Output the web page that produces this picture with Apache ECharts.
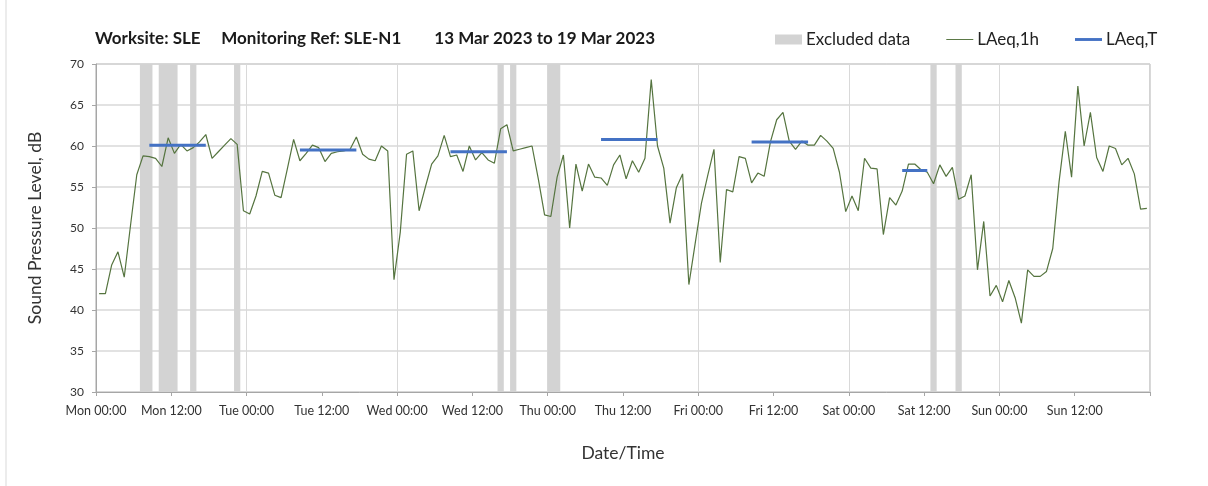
<!DOCTYPE html>
<html lang="en" style="width: 100%;height:100%">
    <head>
        <meta charset="UTF-8">
        <title>SLE-N1</title>
        <script src="https://cdn.jsdelivr.net/npm/echarts@6/dist/echarts.min.js"></script>
    </head>

    <body style="width: 100%;height:100%;margin:0;background:#fff">
        <div id="line" style="width: 1208px;height:486px"></div>
        <script>
            // hourly LAeq,1h, Mon 00:00 .. Sun 23:00 (one value per hour)
            var laeq1h = [
                42.0, 42.0, 45.5, 47.1, 44.0, 50.3, 56.5, 58.8, 58.7, 58.5, 57.5, 61.0,
                59.1, 60.2, 59.4, 59.8, 60.5, 61.4, 58.5, 59.3, 60.1, 60.9, 60.2, 52.1,
                51.7, 53.9, 56.9, 56.7, 54.0, 53.7, 57.2, 60.8, 58.2, 59.1, 60.1, 59.8,
                58.1, 59.1, 59.3, 59.4, 59.6, 61.1, 59.0, 58.4, 58.2, 60.0, 59.4, 43.7,
                49.5, 59.0, 59.4, 52.1, 55.0, 57.8, 58.8, 61.3, 58.7, 58.9, 56.9, 60.0,
                58.3, 59.2, 58.3, 57.9, 62.1, 62.6, 59.4, 59.6, 59.8, 60.0, 56.0, 51.6,
                51.4, 56.2, 58.9, 50.0, 57.8, 54.5, 57.8, 56.2, 56.1, 55.2, 57.7, 58.9,
                56.0, 58.2, 56.8, 58.5, 68.1, 60.0, 57.3, 50.6, 54.9, 56.6, 43.1, 48.1,
                53.0, 56.4, 59.6, 45.8, 54.7, 54.4, 58.7, 58.5, 55.5, 56.7, 56.3, 60.5,
                63.2, 64.1, 60.6, 59.6, 60.6, 60.1, 60.1, 61.3, 60.6, 59.7, 56.8, 52.0,
                53.9, 52.1, 58.5, 57.3, 57.2, 49.2, 53.7, 52.8, 54.5, 57.8, 57.8, 57.1,
                56.8, 55.4, 57.7, 56.3, 57.4, 53.5, 53.9, 56.5, 44.9, 50.8, 41.7, 43.0,
                41.0, 43.6, 41.5, 38.4, 44.9, 44.1, 44.1, 44.7, 47.5, 55.6, 61.8, 56.2,
                67.3, 60.0, 64.1, 58.6, 56.9, 60.0, 59.7, 57.7, 58.5, 56.6, 52.3, 52.4
            ];

            // LAeq,T periods (hour from start of week)
            var periodStart = [8, 32, 56, 80, 104, 128];
            var periodEnd = [18, 42, 66, 90, 114, 133];
            var periodLevel = [60.1, 59.5, 59.3, 60.8, 60.5, 57.0];

            // excluded data windows (hour from start of week)
            var excludedStart = [7, 10, 15, 22, 64, 66, 72, 133, 137];
            var excludedEnd = [9, 13, 16, 23, 65, 67, 74, 134, 138];

            var xTickLabels = ['Mon 00:00', 'Mon 12:00', 'Tue 00:00', 'Tue 12:00', 'Wed 00:00', 'Wed 12:00',
                'Thu 00:00', 'Thu 12:00', 'Fri 00:00', 'Fri 12:00', 'Sat 00:00', 'Sat 12:00',
                'Sun 00:00', 'Sun 12:00', ''];

            var FONT = 'Lato';

            var hourly = laeq1h.map(function (v, i) { return [i + 0.5, v]; });

            var periods = [];
            for (var i = 0; i < periodStart.length; i++) {
                periods.push([periodStart[i] + 0.5, periodLevel[i]]);
                periods.push([periodEnd[i] - 0.5, periodLevel[i]]);
                periods.push([periodEnd[i], null]);
            }

            var excluded = excludedStart.map(function (s, i) {
                return [{ xAxis: s }, { xAxis: excludedEnd[i] }];
            });

            const myChart = echarts.init(document.getElementById('line'));

            const option = {
                animation: false,
                title: {
                    text: 'Worksite: SLE     Monitoring Ref: SLE-N1        13 Mar 2023 to 19 Mar 2023',
                    left: 90,
                    top: 25,
                    textStyle: { fontFamily: FONT, fontSize: 17, fontWeight: 'bold', color: '#1a1a1a' }
                },
                legend: {
                    left: 775,
                    top: 31,
                    padding: 0,
                    itemWidth: 27,
                    itemHeight: 10,
                    itemGap: 36,
                    textStyle: { fontFamily: FONT, fontSize: 17, color: '#222', padding: [0, 0, 0, -1] },
                    data: [
                        { name: 'Excluded data', icon: 'rect' },
                        { name: 'LAeq,1h', icon: 'path://M0,0H28V1H0Z' },
                        { name: 'LAeq,T', icon: 'path://M0,0H28V3H0Z' }
                    ]
                },
                grid: {
                    left: 96, right: 58, top: 64, bottom: 94,
                    show: true, borderColor: '#a6a6a6', borderWidth: 1
                },
                xAxis: [{
                    type: 'value',
                    min: 0, max: 168, interval: 12,
                    name: 'Date/Time',
                    nameLocation: 'middle',
                    nameGap: 52,
                    nameTextStyle: { fontFamily: FONT, fontSize: 17.5, color: '#333' },
                    axisLine: { lineStyle: { color: '#a6a6a6' } },
                    axisTick: { show: true, length: 4, lineStyle: { color: '#a6a6a6' } },
                    axisLabel: {
                        fontFamily: FONT, fontSize: 12.5, color: '#333', margin: 12,
                        formatter: function (v) { return xTickLabels[Math.round(v / 12)]; }
                    },
                    splitLine: { show: false }
                }, {
                    type: 'value',
                    min: 0, max: 168, interval: 24,
                    position: 'bottom',
                    axisLine: { show: false },
                    axisTick: { show: false },
                    axisLabel: { show: false },
                    splitLine: { show: true, lineStyle: { color: '#d9d9d9', width: 1 } }
                }],
                yAxis: {
                    type: 'value',
                    min: 30, max: 70, interval: 5,
                    name: 'Sound Pressure Level, dB',
                    nameLocation: 'middle',
                    nameGap: 52,
                    nameTextStyle: { fontFamily: FONT, fontSize: 17.5, color: '#333' },
                    axisLine: { show: true, lineStyle: { color: '#a6a6a6' } },
                    axisTick: { show: true, length: 4, lineStyle: { color: '#a6a6a6' } },
                    axisLabel: { fontFamily: FONT, fontSize: 12, color: '#333', margin: 12 },
                    splitLine: { show: true, lineStyle: { color: '#d9d9d9', width: 1.5 } }
                },
                graphic: [{
                    type: 'line',
                    shape: { x1: 6, y1: 0, x2: 6, y2: 486 },
                    style: { stroke: '#d9d9d9', lineWidth: 1 }
                }],
                series: [
                    {
                        name: 'Excluded data',
                        type: 'line',
                        data: [],
                        z: 1,
                        itemStyle: { color: '#d3d3d3' },
                        lineStyle: { color: '#d3d3d3' },
                        markArea: {
                            silent: true,
                            itemStyle: { color: '#d3d3d3', opacity: 1 },
                            data: excluded
                        }
                    },
                    {
                        name: 'LAeq,1h',
                        type: 'line',
                        data: hourly,
                        z: 3,
                        symbol: 'none',
                        itemStyle: { color: '#55743f' },
                        lineStyle: { color: '#55743f', width: 1.2 }
                    },
                    {
                        name: 'LAeq,T',
                        type: 'line',
                        data: periods,
                        z: 4,
                        symbol: 'none',
                        connectNulls: false,
                        itemStyle: { color: '#4472C4' },
                        lineStyle: { color: '#4472C4', width: 3 }
                    }
                ]
            };

            myChart.setOption(option);
        </script>
    </body>
</html>
